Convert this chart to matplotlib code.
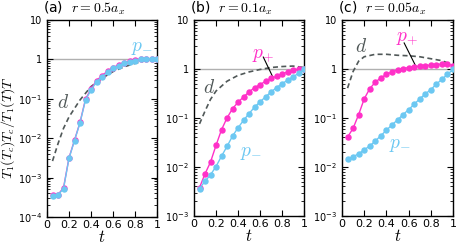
import numpy as np
import matplotlib
matplotlib.use("Agg")
import matplotlib.pyplot as plt
from matplotlib.ticker import LogLocator, FixedLocator, FuncFormatter, NullFormatter

plt.rcParams["mathtext.fontset"] = "cm"

# temperatures t = T/Tc
t = [0.05, 0.10, 0.15, 0.20, 0.25, 0.30, 0.35, 0.40, 0.45, 0.50,
     0.55, 0.60, 0.65, 0.70, 0.75, 0.80, 0.85, 0.90, 0.95, 1.00]
t_d = [0.05, 0.10, 0.15, 0.20, 0.30, 0.40, 0.50, 0.60, 0.70, 0.80, 0.90, 1.00]

# (a) r = 0.5 a_x   (log10 values)
a_pm = [-3.46, -3.44, -3.28, -2.51, -2.06, -1.61, -1.03, -0.78, -0.57, -0.44,
        -0.33, -0.23, -0.16, -0.10, -0.06, -0.03, 0.00, 0.02, 0.02, 0.02]
a_pp = [-3.45, -3.43, -3.26, -2.50, -2.05, -1.60, -1.01, -0.75, -0.54, -0.41,
        -0.30, -0.21, -0.14, -0.09, -0.05, -0.02, 0.00, 0.01, 0.01, 0.00]
a_d = [-2.58, -2.14, -1.75, -1.46, -1.03, -0.69, -0.48, -0.31, -0.19, -0.10, -0.03, 0.00]

# (b) r = 0.1 a_x
b_pp = [-2.42, -2.14, -1.90, -1.56, -1.24, -1.00, -0.81, -0.68, -0.57, -0.47,
        -0.38, -0.32, -0.25, -0.19, -0.15, -0.10, -0.06, -0.03, 0.00, 0.01]
b_pm = [-2.44, -2.29, -2.16, -1.99, -1.78, -1.58, -1.37, -1.20, -1.05, -0.91,
        -0.78, -0.67, -0.57, -0.47, -0.38, -0.30, -0.23, -0.16, -0.09, -0.01]
b_d = [-1.12, -0.86, -0.62, -0.45, -0.25, -0.13, -0.06, -0.01, 0.03, 0.05, 0.06, 0.03]

# (c) r = 0.05 a_x
c_pp = [-1.39, -1.21, -0.93, -0.61, -0.40, -0.27, -0.18, -0.11, -0.06, -0.02,
        0.01, 0.03, 0.05, 0.06, 0.07, 0.08, 0.09, 0.10, 0.10, 0.07]
c_pm = [-1.84, -1.79, -1.73, -1.65, -1.57, -1.47, -1.36, -1.25, -1.14, -1.04,
        -0.93, -0.83, -0.72, -0.61, -0.51, -0.42, -0.31, -0.21, -0.11, -0.01]
c_d = [-0.39, -0.05, 0.16, 0.25, 0.30, 0.30, 0.28, 0.27, 0.25, 0.21, 0.17, 0.08]

magenta = "#ff30c8"
cyan = "#6cc8f2"
dgray = "#505858"


def fmt(v, pos):
    if v >= 9.9:
        return "10"
    if abs(v - 1) < 0.01:
        return "1"
    return r"$\mathregular{10^{%d}}$" % int(round(np.log10(v)))


fig = plt.figure(figsize=(4.63, 2.46), dpi=100)
W, H = 463, 246
boxes = [(47, 157, 20, 217), (194, 304, 20, 216), (342, 453, 20, 216)]
axs = []
for l, r, tp, bt in boxes:
    axs.append(fig.add_axes([l / W, 1 - bt / H, (r - l) / W, (bt - tp) / H]))

panels = [
    (axs[0], a_pp, a_pm, a_d, (1e-4, 10), r"(a)  $r=0.5a_x$"),
    (axs[1], b_pp, b_pm, b_d, (1e-3, 10), r"(b)  $r=0.1a_x$"),
    (axs[2], c_pp, c_pm, c_d, (1e-3, 10), r"(c)  $r=0.05a_x$"),
]

for ax, pp, pm, d, yl, title in panels:
    ax.axhline(1, color="#b0b0b0", lw=1, zorder=1)
    ax.plot(t_d, 10 ** np.array(d), "--", color=dgray, lw=1.2, dashes=(3, 2), zorder=2)
    ax.plot(t, 10 ** np.array(pp), "-o", color=magenta, ms=3.6, lw=1, zorder=3)
    ax.plot(t, 10 ** np.array(pm), "-o", color=cyan, ms=3.6, lw=1, zorder=4)
    ax.set_yscale("log")
    ax.set_xlim(0, 1)
    ax.set_ylim(*yl)
    ax.xaxis.set_major_locator(FixedLocator([0, 0.2, 0.4, 0.6, 0.8, 1]))
    ax.xaxis.set_major_formatter(FuncFormatter(lambda v, p: "%g" % v))
    ax.yaxis.set_major_locator(LogLocator(base=10, numticks=10))
    ax.yaxis.set_minor_locator(LogLocator(base=10, subs=np.arange(2, 10), numticks=10))
    ax.yaxis.set_major_formatter(FuncFormatter(fmt))
    ax.yaxis.set_minor_formatter(NullFormatter())
    ax.tick_params(which="both", direction="in", top=True, right=True, labelsize=8, pad=2)
    ax.tick_params(axis="y", labelsize=7, pad=3.5)
    ax.tick_params(which="major", length=4)
    ax.tick_params(which="minor", length=2)
    for s in ax.spines.values():
        s.set_linewidth(1)
    ax.set_xlabel(r"$t$", fontsize=12, labelpad=-1)
    ax.text(-0.04, 1.015, title, transform=ax.transAxes, fontsize=10, ha="left", va="bottom")

fig.text(8 / W, 1 - 128 / H, r"$T_1(T_c)T_c/T_1(T)T$", fontsize=10,
         rotation=90, ha="center", va="center")

# labels
axs[0].text(0.86, 1.6, r"$p_{-}$", color=cyan, fontsize=14, ha="center")
axs[0].text(0.15, 0.06, r"$d$", color=dgray, fontsize=14, ha="center")

axs[1].text(0.63, 1.7, r"$p_{+}$", color=magenta, fontsize=14, ha="center")
axs[1].plot([0.63, 0.72], [1.75, 0.66], color="k", lw=0.8)
axs[1].text(0.14, 0.33, r"$d$", color=dgray, fontsize=14, ha="center")
axs[1].text(0.52, 0.0166, r"$p_{-}$", color=cyan, fontsize=14, ha="center")

axs[2].text(0.59, 3.8, r"$p_{+}$", color=magenta, fontsize=14, ha="center")
axs[2].plot([0.56, 0.66], [3.4, 1.2], color="k", lw=0.8)
axs[2].text(0.17, 2.2, r"$d$", color=dgray, fontsize=14, ha="center")
axs[2].text(0.52, 0.025, r"$p_{-}$", color=cyan, fontsize=14, ha="center")

fig.savefig("out.png", dpi=100)
